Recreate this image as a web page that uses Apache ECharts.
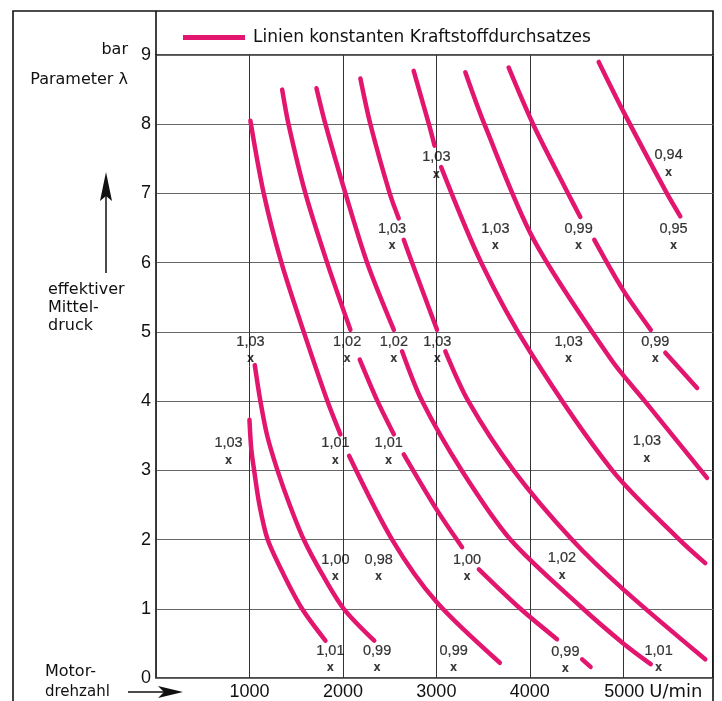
<!DOCTYPE html>
<html>
<head>
<meta charset="utf-8">
<script src="https://cdn.jsdelivr.net/npm/echarts@6/dist/echarts.min.js"></script>
<style>
html,body{margin:0;padding:0;background:#fff;}
#chart{width:722px;height:701px;}
</style>
</head>
<body>
<div id="chart"></div>
<script>
// ---- data (Motordrehzahl in U/min, effektiver Mitteldruck in bar) ----
const curveName = 'Linien konstanten Kraftstoffdurchsatzes';

const curve1 = [
  [[1000,3.73],[1020,3.3],[1050,3.0],[1107,2.5],[1195,2.0],[1364,1.5],[1563,1.0],[1813,0.54]]
];
const curve2 = [
  [[1057,4.52],[1117,4.0],[1190,3.5],[1300,3.0],[1431,2.5],[1581,2.0],[1778,1.5],[2009,1.0],[2335,0.54]]
];
const curve3 = [
  [[1010,8.05],[1153,7.0],[1342,6.0],[1581,5.0],[1834,4.0],[1973,3.52]],
  [[2066,3.21],[2526,2.0],[3000,1.1],[3679,0.22]]
];
const curve4 = [
  [[1350,8.5],[1418,8.0],[1599,7.0],[1831,6.0],[2080,5.03]],
  [[2180,4.6],[2370,4.0],[2545,3.52]],
  [[2651,3.23],[3000,2.44],[3275,1.89]],
  [[3455,1.57],[3900,1.0],[4291,0.56]],
  [[4560,0.27],[4650,0.16]]
];
const curve5 = [
  [[1717,8.52],[1813,8.0],[2027,7.0],[2259,6.0],[2545,5.03]],
  [[2633,4.72],[2847,4.0],[3270,3.0],[3792,2.0],[4570,1.0],[5000,0.5],[5294,0.2]]
];
const curve6 = [
  [[2187,8.66],[2294,8.0],[2501,7.0],[2597,6.64]],
  [[2651,6.33],[2740,6.0],[3007,5.03]],
  [[3096,4.72],[3342,4.0],[3826,3.0],[4450,2.0],[5000,1.28],[5877,0.27]]
];
const curve7 = [
  [[2757,8.77],[2920,8.0],[2981,7.69]],
  [[3051,7.38],[3480,6.0],[4000,4.72],[4882,3.0],[5600,2.0],[5877,1.66]]
];
const curve8 = [
  [[3310,8.75],[3514,8.0],[4043,6.33],[4870,4.6],[5230,4.0],[5896,2.89]]
];
const curve9 = [
  [[3773,8.82],[4035,8.0],[4409,7.0],[4540,6.66]],
  [[4690,6.33],[5000,5.6],[5294,5.03]],
  [[5450,4.7],[5790,4.19]]
];
const curve10 = [
  [[4737,8.9],[5010,8.16],[5467,7.0],[5610,6.67]]
];

// Messpunkte mit Luftzahl lambda
const lambdaRpm  = [1011, 776, 2045, 2545, 3010, 4415, 5342, 2526, 3631, 4522, 5538, 3000, 5485, 1920, 2490, 5253, 1920, 2383, 3328, 4344, 1866, 2366, 3185, 4380, 5378];
const lambdaPme  = [4.6, 3.13, 4.6, 4.6, 4.6, 4.6, 4.6, 6.23, 6.23, 6.23, 6.23, 7.26, 7.29, 3.13, 3.13, 3.16, 1.45, 1.45, 1.45, 1.47, 0.13, 0.13, 0.13, 0.12, 0.13];
const lambdaText = ['1,03','1,03','1,02','1,02','1,03','1,03','0,99','1,03','1,03','0,99','0,95','1,03','0,94','1,01','1,01','1,03','1,00','0,98','1,00','1,02','1,01','0,99','0,99','0,99','1,01'];

const xTicks = [1000, 2000, 3000, 4000, 5000];
const yTicks = [0,1,2,3,4,5,6,7,8,9];

// ---- chart ----
const PINK = '#e3166f';
const INK = '#111';
const FONT = '"Liberation Sans", Arial, Helvetica, sans-serif';
const WFONT = '"DejaVu Sans", Verdana, sans-serif';

const allCurves = [curve1, curve2, curve3, curve4, curve5, curve6, curve7, curve8, curve9, curve10];
const series = [];
allCurves.forEach(function (curve) {
  curve.forEach(function (seg) {
    series.push({
      type: 'line', name: curveName, data: seg, smooth: 0.3,
      showSymbol: false, silent: true, z: 3,
      itemStyle: { color: PINK },
      lineStyle: { color: PINK, width: 4.5, cap: 'round' }
    });
  });
});

const pts = lambdaRpm.map(function (v, i) { return { value: [v, lambdaPme[i]], name: lambdaText[i] }; });
series.push({
  type: 'scatter', name: 'x', data: pts, symbolSize: 2, silent: true, z: 4,
  itemStyle: { color: 'rgba(0,0,0,0)' },
  label: { show: true, position: 'inside', formatter: 'x', color: '#000', textBorderColor: '#000', textBorderWidth: 0.2, fontFamily: FONT, fontSize: 12, fontWeight: 'bold', offset: [0, -1] }
});
series.push({
  type: 'scatter', name: 'lambda', data: pts, symbolSize: 2, silent: true, z: 4,
  itemStyle: { color: 'rgba(0,0,0,0)' },
  label: { show: true, position: 'inside', formatter: '{b}', color: '#000', textBorderColor: '#000', textBorderWidth: 0.2, fontFamily: FONT, fontSize: 14.5, offset: [0, -18] }
});

const chart = echarts.init(document.getElementById('chart'), null, { renderer: 'canvas' });
chart.setOption({
  animation: false,
  backgroundColor: '#fff',
  textStyle: { fontFamily: FONT },
  legend: {
    data: [curveName], left: 178, top: 24, icon: 'rect', itemWidth: 62, itemHeight: 5,
    selectedMode: false,
    textStyle: { color: INK, fontSize: 17, fontFamily: WFONT, padding: [0, 0, 0, 3] }
  },
  grid: { left: 156, right: 9, top: 55, bottom: 22, show: true, borderColor: INK, borderWidth: 1.6, backgroundColor: 'transparent' },
  xAxis: {
    type: 'value', min: 0, max: 5960, interval: 1000,
    axisLine: { show: false }, axisTick: { show: false },
    splitLine: { show: true, lineStyle: { color: '#333', width: 1 } },
    axisLabel: {
      margin: 5, color: INK, fontSize: 18, fontFamily: FONT,
      formatter: function (v) {
        if (xTicks.indexOf(v) < 0) return '';
        if (v === 5000) return '{n|' + v + '} {u|U/min}';
        return String(v);
      },
      rich: {
        n: { fontSize: 18, fontFamily: FONT, color: INK, padding: [0, 0, 0, 60] },
        u: { fontSize: 18, fontFamily: WFONT, color: INK }
      }
    }
  },
  yAxis: {
    type: 'value', min: 0, max: 9, interval: 1,
    axisLine: { show: false }, axisTick: { show: false },
    splitLine: { show: true, lineStyle: { color: '#666', width: 1 } },
    axisLabel: {
      margin: 5, color: INK, fontSize: 18, fontFamily: FONT,
      formatter: function (v) { return yTicks.indexOf(v) >= 0 ? String(v) : ''; }
    }
  },
  graphic: [
    { type: 'rect', shape: { x: 13, y: 11, width: 700, height: 720 }, style: { fill: 'none', stroke: INK, lineWidth: 1.6 }, silent: true },
    { type: 'line', shape: { x1: 156, y1: 11, x2: 156, y2: 55 }, style: { stroke: INK, lineWidth: 1.6 }, silent: true },
    { type: 'text', x: 128, y: 50, style: { text: 'bar', fill: INK, font: '16px ' + WFONT, textAlign: 'right', textVerticalAlign: 'middle' } },
    { type: 'text', x: 128, y: 80, style: { text: 'Parameter λ', fill: INK, font: '16px ' + WFONT, textAlign: 'right', textVerticalAlign: 'middle' } },
    { type: 'line', shape: { x1: 106, y1: 196, x2: 106, y2: 273 }, style: { stroke: INK, lineWidth: 1.5 }, silent: true },
    { type: 'polygon', shape: { points: [[106, 172], [112, 201], [106, 196], [100, 201]] }, style: { fill: INK }, silent: true },
    { type: 'text', x: 48, y: 290, style: { text: 'effektiver', fill: INK, font: '16px ' + WFONT, textAlign: 'left', textVerticalAlign: 'middle' } },
    { type: 'text', x: 48, y: 308, style: { text: 'Mittel-', fill: INK, font: '16px ' + WFONT, textAlign: 'left', textVerticalAlign: 'middle' } },
    { type: 'text', x: 48, y: 326, style: { text: 'druck', fill: INK, font: '16px ' + WFONT, textAlign: 'left', textVerticalAlign: 'middle' } },
    { type: 'text', x: 45, y: 672, style: { text: 'Motor-', fill: INK, font: '16px ' + WFONT, textAlign: 'left', textVerticalAlign: 'middle' } },
    { type: 'text', x: 45, y: 692, style: { text: 'drehzahl', fill: INK, font: '15px ' + WFONT, textAlign: 'left', textVerticalAlign: 'middle' } },
    { type: 'line', shape: { x1: 128, y1: 692, x2: 168, y2: 692 }, style: { stroke: INK, lineWidth: 1.5 }, silent: true },
    { type: 'polygon', shape: { points: [[183, 692], [158, 686], [164, 692], [158, 698]] }, style: { fill: INK }, silent: true }
  ],
  series: series
});
</script>
</body>
</html>
